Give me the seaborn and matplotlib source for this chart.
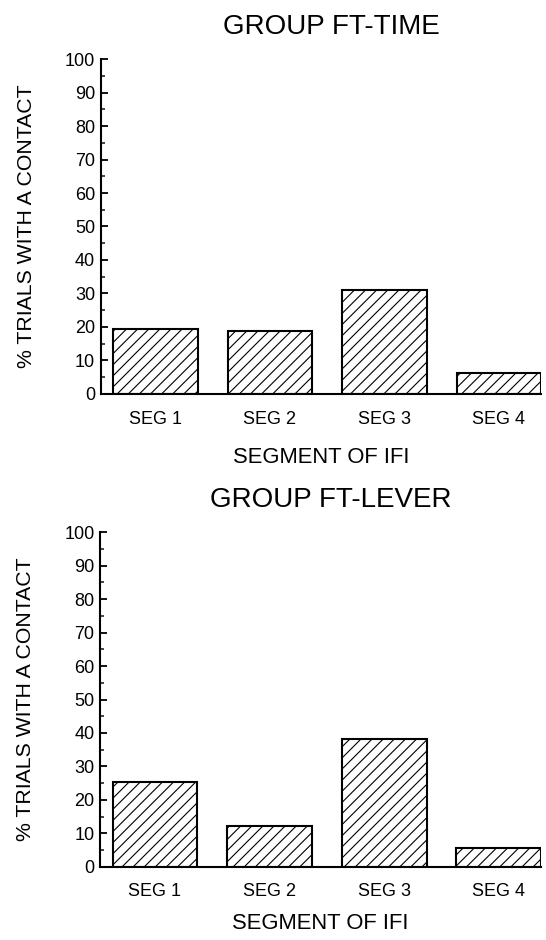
import matplotlib
matplotlib.use("Agg")
import matplotlib.pyplot as plt
import seaborn as sns
import pandas as pd
from matplotlib.ticker import MultipleLocator

sns.set_theme(style="white")
plt.rcParams['font.family'] = ['Liberation Sans', 'DejaVu Sans']
plt.rcParams['hatch.linewidth'] = 0.8

segments = ["SEG 1", "SEG 2", "SEG 3", "SEG 4"]
ft_time = [19.5, 18.8, 31.0, 6.4]
ft_lever = [25.4, 12.2, 38.1, 5.5]
titles = ["GROUP FT-TIME", "GROUP FT-LEVER"]
ylabel = "% TRIALS WITH A CONTACT"
xlabel = "SEGMENT OF IFI"

fig = plt.figure(figsize=(5.46, 9.40), dpi=100)
ax1 = fig.add_axes([0.1844, 0.5809, 0.8064, 0.3563])
ax2 = fig.add_axes([0.1832, 0.0780, 0.8076, 0.3557])

for ax, vals, title, xlab_pad in [(ax1, ft_time, titles[0], 14), (ax2, ft_lever, titles[1], 9)]:
    df = pd.DataFrame({"seg": segments, "val": vals})
    sns.barplot(data=df, x="seg", y="val", ax=ax, color="white", saturation=1,
                edgecolor="black", linewidth=1.5, width=0.74, hatch="///", errorbar=None)
    ax.set_xlim(-0.479, 3.367)
    ax.set_ylim(0, 100)
    ax.set_yticks(range(0, 101, 10))
    ax.yaxis.set_minor_locator(MultipleLocator(5))
    ax.tick_params(axis='y', which='major', direction='in', length=5, width=1.3,
                   labelsize=13, colors='black', pad=4, left=True)
    ax.tick_params(axis='y', which='minor', direction='in', length=3, width=1.2, left=True)
    ax.tick_params(axis='x', length=0, labelsize=13, pad=12, colors='black')
    for s in ['top', 'right']:
        ax.spines[s].set_visible(False)
    for s in ['left', 'bottom']:
        ax.spines[s].set_color('black')
        ax.spines[s].set_linewidth(1.5)
    ax.set_xlabel(xlabel, fontsize=15.8, labelpad=xlab_pad, color='black')
    ax.set_ylabel(ylabel, fontsize=15.3, labelpad=21, color='black')
    ax.set_title(title, fontsize=20, pad=18, color='black', x=0.524)
    ax.set_facecolor('white')

fig.savefig("out.png", dpi=100, facecolor='white')
